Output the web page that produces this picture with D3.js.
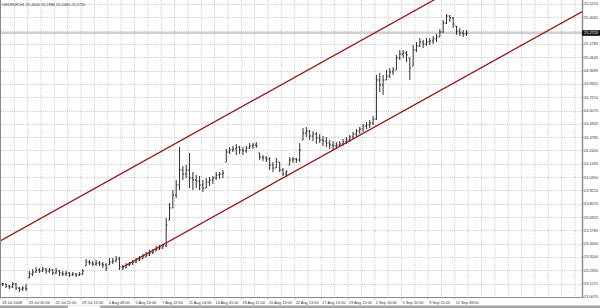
<!DOCTYPE html>
<html><head><meta charset="utf-8">
<script src="https://cdn.jsdelivr.net/npm/d3@7"></script>
<style>html,body{margin:0;padding:0;background:#fff;overflow:hidden}</style>
</head><body><svg id="c" width="600" height="308"></svg>
<script>
const symbol = "USDRUR,H1";
const highs = [23.127,23.119,23.110,23.136,23.127,23.093,23.101,23.119,23.230,23.247,
23.265,23.256,23.265,23.256,23.256,23.247,23.256,23.239,23.230,23.230,
23.221,23.221,23.213,23.221,23.247,23.333,23.325,23.316,23.325,23.316,
23.307,23.299,23.342,23.342,23.359,23.350,23.282,23.299,23.307,23.325,
23.342,23.359,23.376,23.393,23.410,23.419,23.445,23.453,23.462,23.685,
23.814,23.925,24.011,24.294,24.131,24.140,24.243,24.080,24.054,24.045,
24.011,24.028,24.037,24.045,24.080,24.080,24.097,24.277,24.294,24.303,
24.320,24.303,24.294,24.303,24.328,24.328,24.337,24.243,24.225,24.217,
24.208,24.165,24.200,24.165,24.114,24.097,24.208,24.208,24.200,24.328,
24.457,24.466,24.440,24.431,24.423,24.405,24.388,24.380,24.354,24.345,
24.337,24.345,24.363,24.380,24.397,24.423,24.448,24.466,24.491,24.509,
24.526,24.560,24.912,24.929,24.912,24.955,24.972,24.980,25.083,25.126,
25.126,25.118,25.058,25.169,25.195,25.229,25.212,25.229,25.229,25.246,
25.264,25.306,25.384,25.435,25.427,25.409,25.332,25.315,25.298,25.298];
const lows = [23.101,23.084,23.075,23.084,23.067,23.050,23.058,23.058,23.170,23.187,
23.213,23.213,23.221,23.204,23.213,23.196,23.204,23.187,23.187,23.187,
23.179,23.187,23.179,23.187,23.196,23.273,23.282,23.273,23.273,23.273,
23.256,23.230,23.282,23.290,23.307,23.239,23.239,23.256,23.273,23.282,
23.299,23.316,23.333,23.350,23.359,23.376,23.402,23.410,23.419,23.436,
23.667,23.771,23.856,23.925,24.011,24.028,23.942,23.925,23.942,23.925,
23.908,23.942,23.959,23.977,24.011,24.020,24.028,24.165,24.234,24.251,
24.225,24.234,24.225,24.243,24.277,24.277,24.286,24.183,24.174,24.165,
24.097,24.080,24.114,24.080,24.045,24.037,24.140,24.157,24.157,24.165,
24.354,24.380,24.354,24.345,24.320,24.328,24.303,24.294,24.277,24.268,
24.277,24.294,24.303,24.320,24.337,24.363,24.380,24.405,24.423,24.448,
24.457,24.483,24.526,24.766,24.740,24.869,24.886,24.912,24.955,25.041,
25.058,25.023,24.869,24.989,25.109,25.152,25.143,25.161,25.169,25.178,
25.195,25.238,25.272,25.349,25.367,25.315,25.255,25.246,25.238,25.246];
const closes = [23.119,23.101,23.093,23.119,23.084,23.075,23.084,23.075,23.204,23.221,
23.239,23.230,23.247,23.230,23.239,23.213,23.230,23.213,23.204,23.213,
23.196,23.204,23.196,23.204,23.230,23.307,23.299,23.290,23.299,23.290,
23.282,23.256,23.307,23.316,23.333,23.265,23.256,23.282,23.290,23.307,
23.325,23.333,23.350,23.367,23.385,23.393,23.419,23.428,23.445,23.625,
23.771,23.882,23.968,24.097,24.062,24.097,24.028,24.011,24.002,23.968,
23.942,23.994,24.011,24.028,24.054,24.062,24.071,24.251,24.268,24.277,
24.294,24.268,24.260,24.286,24.303,24.311,24.303,24.208,24.200,24.191,
24.140,24.114,24.165,24.097,24.062,24.080,24.183,24.191,24.183,24.268,
24.414,24.431,24.388,24.405,24.371,24.354,24.345,24.328,24.311,24.303,
24.311,24.320,24.337,24.354,24.380,24.405,24.431,24.448,24.474,24.483,
24.500,24.534,24.869,24.826,24.869,24.903,24.938,24.955,25.058,25.092,
25.100,25.083,24.972,25.126,25.161,25.195,25.178,25.195,25.204,25.221,
25.238,25.281,25.358,25.418,25.401,25.349,25.289,25.272,25.264,25.272];
const xLabels = ["18 Jul 2008","23 Jul 05:00","25 Jul 11:00","29 Jul 12:00","1 Aug 08:00",
"5 Aug 10:00","7 Aug 12:00","11 Aug 14:00","14 Aug 05:00","18 Aug 11:00","20 Aug 13:00",
"22 Aug 13:00","27 Aug 14:00","29 Aug 15:00","2 Sep 16:00","5 Sep 10:00","9 Sep 15:00","11 Sep 08:00"];
const yTicks = [23.0070,23.1215,23.2355,23.3500,23.4640,23.5785,23.6925,23.8070,23.9210,24.0350,
24.1495,24.2645,24.3785,24.4925,24.6070,24.7210,24.8355,24.9495,25.0645,25.1785,25.2925,25.4065,25.5210];
const upperChannel = [{bar:0, price:23.492},{bar:53, price:24.335}];
const lowerChannel = [{bar:36, price:23.256},{bar:139, price:24.896}];

const svg = d3.select("#c");
const L = 1, R = 582, T = 0, B = 297;
const slots = 174.4;
const x = d3.scaleLinear().domain([0, slots]).range([L, 583]);
const y = d3.scaleLinear().domain([yTicks[0], yTicks[yTicks.length-1]]).range([297, 4]);
const FONT = "'Liberation Sans', Arial, sans-serif";

svg.append("defs").append("clipPath").attr("id","pc")
  .append("rect").attr("x",L).attr("y",T).attr("width",R-L).attr("height",B-T);

// grid
const grid = svg.append("g").attr("stroke","#b8b8b8").attr("stroke-width",0.8).attr("stroke-dasharray","1,1.2");
yTicks.forEach(v => grid.append("line").attr("x1",L).attr("x2",R).attr("y1",Math.round(y(v))+0.5).attr("y2",Math.round(y(v))+0.5));
for (let k = 1; x(4*k) < R; k++) {
  const gx = x(4*k);
  grid.append("line").attr("x1",gx).attr("x2",gx).attr("y1",T).attr("y2",B);
}

// bid line
const last = closes[closes.length-1];
svg.append("line").attr("x1",L).attr("x2",R).attr("y1",y(last)).attr("y2",y(last))
  .attr("stroke","#a0a0a0").attr("stroke-width",1);

// bars
const bars = svg.append("g").attr("clip-path","url(#pc)");
let p = "";
closes.forEach((c,i) => {
  const hi = highs[i], lo = lows[i];
  let o = i === 0 ? c : closes[i-1];
  o = Math.max(lo, Math.min(hi, o));
  const cx = x(i+0.5);
  p += `M${cx},${y(hi)}V${y(lo)}M${cx-1.2},${y(o)}H${cx}M${cx},${y(c)}H${cx+1.2}`;
});
bars.append("path").attr("d",p).attr("fill","none").attr("stroke","#1a1a1a").attr("stroke-width",0.9);

// channel lines
function chan(a, startBar) {
  const s = (a[1].price - a[0].price)/(a[1].bar - a[0].bar);
  const f = b => a[0].price + s*(b - a[0].bar);
  return [[x(startBar), y(f(startBar))],[x(slots+5), y(f(slots+5))]];
}
const cg = svg.append("g").attr("clip-path","url(#pc)");
[[upperChannel, -1],[lowerChannel, lowerChannel[0].bar+0.4]].forEach(([a,sb]) => {
  cg.append("path").attr("d", d3.line()(chan(a,sb)))
    .attr("stroke","#9a1616").attr("stroke-width",1.3).attr("fill","none");
});

// frame
svg.append("line").attr("x1",0.5).attr("x2",0.5).attr("y1",0).attr("y2",B+0.5).attr("stroke","#888").attr("stroke-width",1);
svg.append("line").attr("x1",R+0.5).attr("x2",R+0.5).attr("y1",0).attr("y2",B+1).attr("stroke","#8a8a8a").attr("stroke-width",1.4);
svg.append("line").attr("x1",0).attr("x2",R+1).attr("y1",B+0.5).attr("y2",B+0.5).attr("stroke","#8a8a8a").attr("stroke-width",1.2);

// y labels (grid label hidden under the current-price box, as in the terminal)
const yl = svg.append("g").attr("font-family",FONT).attr("font-size",3.9).attr("fill","#333");
yTicks.forEach(v => {
  svg.append("line").attr("x1",R+1).attr("x2",R+2.5).attr("y1",y(v)).attr("y2",y(v)).attr("stroke","#888").attr("stroke-width",0.6);
  if (Math.abs(y(v) - y(last)) < 5) return;
  yl.append("text").attr("x",584).attr("y",y(v)+1.4).text(v.toFixed(4));
});
// current price label
svg.append("rect").attr("x",582).attr("y",y(last)-2.8).attr("width",18).attr("height",5.6).attr("fill","#111");
svg.append("text").attr("x",584).attr("y",y(last)+1.4).attr("font-family",FONT).attr("font-size",3.9)
  .attr("fill","#fff").text(last.toFixed(4));

// x labels
const xl = svg.append("g").attr("font-family",FONT).attr("font-size",3.9).attr("fill","#333");
xLabels.forEach((t,k) => {
  xl.append("text").attr("x",x(8*k)+1).attr("y",303.6).text(t);
  svg.append("line").attr("x1",x(8*k)).attr("x2",x(8*k)).attr("y1",B+1).attr("y2",B+2.5).attr("stroke","#888").attr("stroke-width",0.6);
});

// title
const lastOpen = closes[closes.length-2];
svg.append("text").attr("x",2).attr("y",6.4).attr("font-family",FONT).attr("font-size",3.9).attr("fill","#333")
  .text(`${symbol}  ${lastOpen.toFixed(4)} ${highs[highs.length-1].toFixed(4)} ${lows[lows.length-1].toFixed(4)} ${last.toFixed(4)}`);

// bottom tab bar
svg.append("rect").attr("x",0).attr("y",305.5).attr("width",600).attr("height",2.5).attr("fill","#a4a4a4");
svg.append("rect").attr("x",68).attr("y",305.5).attr("width",32).attr("height",2.5).attr("fill","#fff");
</script></body></html>
